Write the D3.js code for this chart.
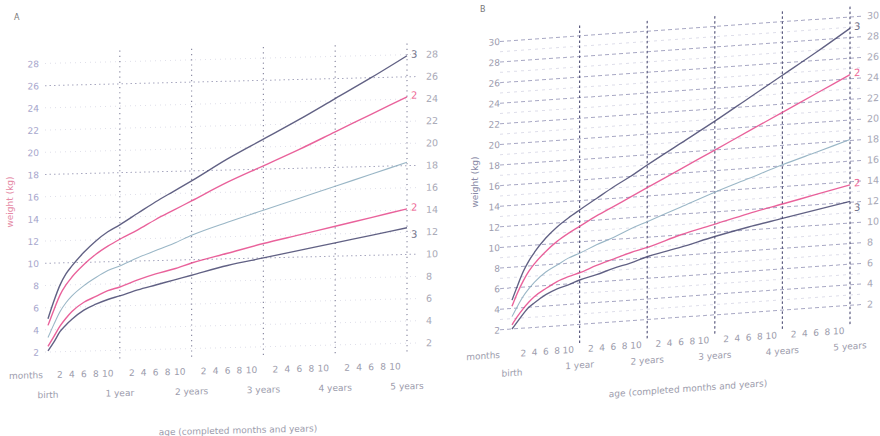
<!DOCTYPE html>
<html lang="en">
<head>
<meta charset="UTF-8">
<title>Weight-for-age</title>
<script src="https://d3js.org/d3.v7.min.js"></script>
<style>
    body { margin: 0; background: #fff; }
    svg { display: block; }
    text { font-family: "DejaVu Sans", sans-serif; }
</style>
</head>
<body>
<svg id="chart"></svg>
<script>
// age in completed months
const months = [0, 1, 2, 3, 4, 6, 8, 10, 12, 15, 18, 21, 24, 30, 36, 42, 48, 54, 60];

// chart A (kg)
const aPlus3  = [5.0, 6.6, 8.0, 9.0, 9.7, 10.9, 11.9, 12.7, 13.3, 14.3, 15.3, 16.2, 17.1, 19.0, 20.7, 22.4, 24.2, 26.0, 27.9];
const aPlus2  = [4.4, 5.8, 7.1, 8.0, 8.7, 9.8, 10.7, 11.4, 12.0, 12.8, 13.7, 14.5, 15.3, 16.9, 18.3, 19.7, 21.2, 22.7, 24.2];
const aMedian = [3.3, 4.5, 5.6, 6.4, 7.0, 7.9, 8.6, 9.2, 9.6, 10.3, 10.9, 11.5, 12.2, 13.3, 14.3, 15.3, 16.3, 17.3, 18.3];
const aMinus2 = [2.5, 3.4, 4.3, 5.0, 5.6, 6.4, 6.9, 7.4, 7.7, 8.3, 8.8, 9.2, 9.7, 10.5, 11.3, 12.0, 12.7, 13.4, 14.1];
const aMinus3 = [2.1, 2.9, 3.8, 4.4, 4.9, 5.7, 6.2, 6.6, 6.9, 7.4, 7.8, 8.2, 8.6, 9.4, 10.0, 10.6, 11.2, 11.8, 12.4];

// chart B (kg)
const bPlus3  = [4.8, 6.2, 7.5, 8.5, 9.3, 10.6, 11.6, 12.4, 13.1, 14.1, 15.1, 16.0, 17.0, 18.9, 20.8, 22.8, 24.8, 26.8, 28.9];
const bPlus2  = [4.2, 5.5, 6.6, 7.5, 8.2, 9.3, 10.2, 10.9, 11.5, 12.4, 13.2, 14.0, 14.8, 16.4, 18.0, 19.6, 21.2, 22.8, 24.4];
const bMedian = [3.2, 4.2, 5.1, 5.8, 6.4, 7.3, 7.9, 8.5, 8.9, 9.6, 10.2, 10.9, 11.5, 12.7, 13.9, 15.0, 16.1, 17.1, 18.1];
const bMinus2 = [2.4, 3.2, 3.9, 4.5, 5.0, 5.7, 6.3, 6.7, 7.0, 7.6, 8.1, 8.6, 9.0, 10.0, 10.8, 11.6, 12.3, 13.0, 13.7];
const bMinus3 = [2.0, 2.7, 3.4, 4.0, 4.4, 5.1, 5.6, 5.9, 6.3, 6.7, 7.2, 7.6, 8.1, 8.8, 9.6, 10.3, 10.9, 11.5, 12.1];

const yearLabels = ["birth", "1 year", "2 years", "3 years", "4 years", "5 years"];
const monthTicks = [2, 4, 6, 8, 10];
const curveNames = ["3", "2", "", "2", "3"];

const width = 880;
const height = 436;

const svg = d3.select("#chart")
    .attr("width", width)
    .attr("height", height);

const dark = "#45456f";
const pink = "#e5468a";
const teal = "#8eaec0";
const curveColors = [dark, pink, teal, pink, dark];

function drawPanel(p) {
    const g = svg.append("g")
        .attr("transform", `translate(${p.x0},0) skewY(${p.skew})`);

    const x = d3.scaleLinear().domain([0, 60]).range([0, p.w]);
    const y = d3.scaleLinear().domain([2, p.maxKg]).range([p.yLow, p.yHigh]);

    // horizontal grid
    g.append("g").selectAll("line")
        .data(d3.range(2, p.maxKg + 0.1, p.minorStep))
        .join("line")
        .attr("x1", p.hx1).attr("x2", p.hx2)
        .attr("y1", d => y(d)).attr("y2", d => y(d))
        .attr("stroke", d => p.isMajor(d) ? p.majorColor : p.minorColor)
        .attr("stroke-width", 1)
        .attr("stroke-dasharray", d => p.isMajor(d) ? p.majorDash : p.minorDash);

    // vertical year lines
    g.append("g").selectAll("line")
        .data([12, 24, 36, 48, 60])
        .join("line")
        .attr("x1", d => x(d)).attr("x2", d => x(d))
        .attr("y1", y(p.vTop)).attr("y2", p.vBottom)
        .attr("stroke", p.vColor)
        .attr("stroke-width", 1.2)
        .attr("stroke-dasharray", p.vDash);

    // left and right kg labels
    const labels = d3.range(2, p.maxKg + 0.1, 2);
    g.append("g").selectAll("text")
        .data(labels)
        .join("text")
        .attr("x", p.leftLabelX)
        .attr("y", d => y(d) + 3.5)
        .attr("text-anchor", "end")
        .attr("font-size", 9)
        .attr("fill", p.leftLabelColor)
        .text(d => d);
    g.append("g").selectAll("text")
        .data(labels)
        .join("text")
        .attr("x", p.rightLabelX)
        .attr("y", d => y(d) + 3.5)
        .attr("font-size", 9.5)
        .attr("fill", "#a8a8b6")
        .text(d => d);

    // curves
    const line = d3.line()
        .x((d, i) => x(months[i]))
        .y(d => y(d))
        .curve(d3.curveMonotoneX);
    g.append("g").selectAll("path")
        .data(p.series)
        .join("path")
        .attr("d", d => line(d))
        .attr("fill", "none")
        .attr("stroke", (d, i) => curveColors[i])
        .attr("stroke-width", (d, i) => i === 2 ? 1.1 : 1.4)
        .attr("stroke-opacity", (d, i) => i === 2 ? 0.9 : 0.85);

    // curve end labels
    g.append("g").selectAll("text")
        .data(p.series)
        .join("text")
        .attr("x", x(60) + 4)
        .attr("y", (d, i) => y(d[d.length - 1]) + (i === 4 ? 10 : 2))
        .attr("font-size", 10)
        .attr("fill", (d, i) => i === 1 || i === 3 ? "#ee6a98" : "#707088")
        .text((d, i) => curveNames[i]);

    // month ticks
    const mt = [];
    for (let yr = 0; yr < 5; yr++) monthTicks.forEach(m => mt.push(yr * 12 + m));
    g.append("g").selectAll("text")
        .data(mt)
        .join("text")
        .attr("x", d => x(d))
        .attr("y", p.monthY)
        .attr("text-anchor", "middle")
        .attr("font-size", 9)
        .attr("fill", "#9c9cac")
        .text(d => d % 12);

    g.append("text")
        .attr("x", p.monthsX)
        .attr("y", p.monthsY)
        .attr("text-anchor", "end")
        .attr("font-size", 9)
        .attr("fill", "#9c9cac")
        .text("months");

    g.append("g").selectAll("text")
        .data(yearLabels)
        .join("text")
        .attr("x", (d, i) => x(i * 12))
        .attr("y", (d, i) => i === 0 ? p.birthY : p.yearY)
        .attr("text-anchor", "middle")
        .attr("font-size", 9)
        .attr("fill", "#9c9cac")
        .text(d => d);

    g.append("text")
        .attr("x", p.titleX)
        .attr("y", p.titleY)
        .attr("text-anchor", "middle")
        .attr("font-size", 9)
        .attr("fill", "#9c9cac")
        .text("age (completed months and years)");

    svg.append("text")
        .attr("transform", `translate(${p.wLabelX},${p.wLabelY}) rotate(-90)`)
        .attr("text-anchor", "middle")
        .attr("font-size", 9)
        .attr("fill", p.wLabelColor)
        .text("weight (kg)");

    svg.append("text")
        .attr("x", p.letterX)
        .attr("y", p.letterY)
        .attr("font-size", 8)
        .attr("fill", "#777")
        .text(p.letter);
}

drawPanel({
    letter: "A", letterX: 14, letterY: 20,
    x0: 48, w: 359, skew: -1.4,
    maxKg: 28, yLow: 352, yHigh: 63.4,
    minorStep: 2,
    isMajor: d => d === 10 || d === 18 || d === 26,
    majorColor: "#a8a8c0", minorColor: "#e0e0ea",
    majorDash: "1.5,3", minorDash: "1,4",
    hx1: -3, hx2: 368,
    vTop: 29, vBottom: 364, vColor: "#8c8ca4", vDash: "1.2,4",
    leftLabelX: -9, leftLabelColor: "#a6a6cc", rightLabelX: 378,
    monthY: 378, monthsX: -5, monthsY: 378,
    birthY: 398, yearY: 398,
    titleX: 190, titleY: 438,
    wLabelX: 13, wLabelY: 202, wLabelColor: "#e58aa6",
    series: [aPlus3, aPlus2, aMedian, aMinus2, aMinus3]
});

drawPanel({
    letter: "B", letterX: 480, letterY: 12,
    x0: 512, w: 338, skew: -4,
    maxKg: 30, yLow: 329, yHigh: 40.6,
    minorStep: 1,
    isMajor: d => d % 2 === 0,
    majorColor: "#a8a8c4", minorColor: "#dedeea",
    majorDash: "4,3", minorDash: "3,4",
    hx1: -12, hx2: 352,
    vTop: 31, vBottom: 350, vColor: "#5c5c80", vDash: "2.5,2.5",
    leftLabelX: -12, leftLabelColor: "#9c9cae", rightLabelX: 355,
    monthY: 357, monthsX: -12, monthsY: 357,
    birthY: 376, yearY: 373,
    titleX: 176, titleY: 404,
    wLabelX: 478, wLabelY: 182, wLabelColor: "#8a8aa6",
    series: [bPlus3, bPlus2, bMedian, bMinus2, bMinus3]
});
</script>
</body>
</html>
